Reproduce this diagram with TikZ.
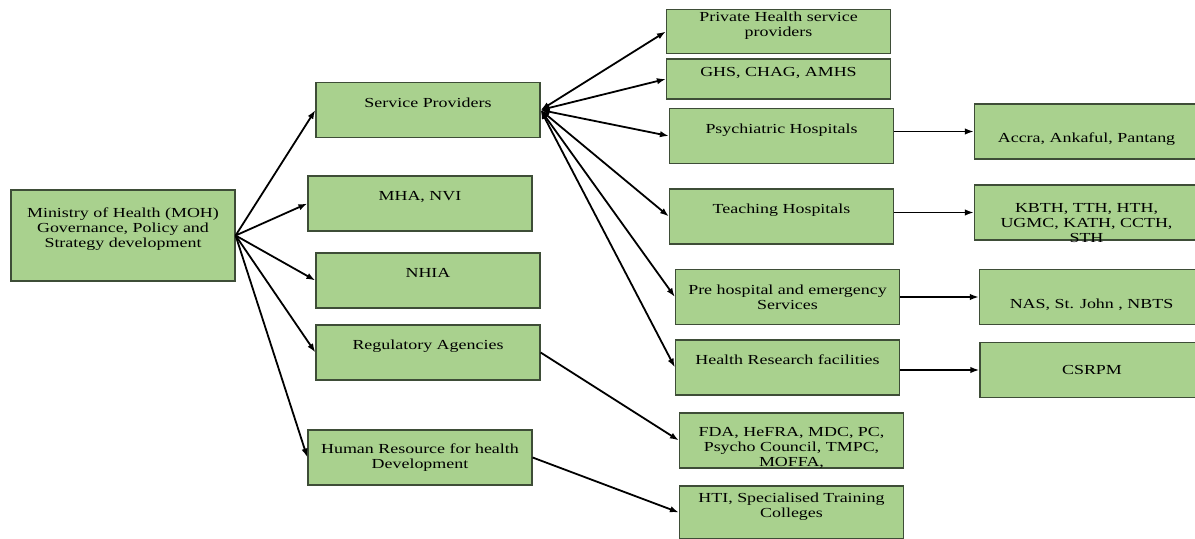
\documentclass[tikz,border=0pt]{standalone}
\usepackage{fontspec}
\setmainfont{Liberation Serif}[FakeStretch=1.3]
\usepackage{xcolor}
\usepackage{tikz}
\usetikzlibrary{arrows.meta,positioning,calc}
\definecolor{boxgreen}{HTML}{A9D18E}
\definecolor{boxline}{HTML}{3E4D37}

\begin{document}
\begin{tikzpicture}[
    x=0.5pt, y=-0.5pt,
    orgbox/.style={draw=boxline, line width=0.6pt, fill=boxgreen, minimum width=112pt, minimum height=27.5pt, inner sep=1pt, align=center, font=\fontsize{6.9}{7.5}\selectfont},
    flatbox/.style={orgbox, minimum height=20pt},
    arrow/.style={-{Latex[length=4.5pt,width=3.2pt]}, line width=0.9pt},
    twoway/.style={{Latex[length=4.5pt,width=3.2pt]}-{Latex[length=4.5pt,width=3.2pt]}, line width=0.9pt}
]
\useasboundingbox (0,0) rectangle (1195,539);
% ministry and its agencies
\node[orgbox, minimum height=45.5pt] (moh) at (123,235.5) {Ministry of Health (MOH)\\ Governance, Policy and\\ Strategy development\\ \mbox{}};
\node[orgbox] (sp) at (428,110) {Service Providers\\ \mbox{}};
\node[orgbox] (mha) at (420,203.5) {MHA, NVI\\ \mbox{}};
\node[orgbox] (nhia) at (428,280.5) {NHIA\\ \mbox{}};
\node[orgbox] (reg) at (428,352.5) {Regulatory Agencies\\ \mbox{}};
\node[orgbox] (hr) at (420,457.5) {Human Resource for health\\ Development};
% service providers
\node[flatbox] (private) at (778.5,31.5) {Private Health service\\ providers\\ \mbox{}};
\node[flatbox] (ghs) at (778.5,79) {GHS, CHAG, AMHS\\ \mbox{}};
\node[orgbox] (psych) at (781.5,136) {Psychiatric Hospitals\\ \mbox{}};
\node[orgbox] (teach) at (781.5,216.5) {Teaching Hospitals\\ \mbox{}};
\node[orgbox] (pre) at (787.5,297) {Pre hospital and emergency\\ Services};
\node[orgbox] (research) at (787.5,367.5) {Health Research facilities\\ \mbox{}};
\node[orgbox] (fda) at (791.5,440.5) {\mbox{}\\ FDA, HeFRA, MDC, PC,\\ Psycho Council, TMPC,\\ MOFFA,\\[-11pt] \mbox{}};
\node[orgbox, minimum height=26.5pt] (hti) at (791.5,512.5) {HTI, Specialised Training\\ Colleges\\ \mbox{}};
% facilities
\node[orgbox] (accra) at (1086.5,131.5) {\mbox{}\\[5pt] Accra, Ankaful, Pantang};
\node[orgbox] (kbth) at (1086.5,212.5) {\mbox{}\\ KBTH, TTH, HTH,\\ UGMC, KATH, CCTH,\\ STH\\[-15pt] \mbox{}};
\node[orgbox] (nas) at (1091.5,297) {\mbox{}\\[5pt] NAS, St. John , NBTS};
\node[orgbox] (csrpm) at (1092,370) {CSRPM};

\foreach \b in {sp,mha,nhia,reg,hr} {
    \draw[arrow] (moh.east) -- (\b.west);
}
\foreach \b in {private,ghs,psych,teach,pre,research} {
    \draw[twoway] (sp.east) -- (\b.west);
}
\draw[arrow] (psych.east |- accra) -- (accra.west);
\draw[arrow] (teach.east |- kbth) -- (kbth.west);
\draw[arrow] (pre.east) -- (nas.west);
\draw[arrow] (research.east |- csrpm) -- (csrpm.west);
\draw[arrow] (reg.east) -- (fda.west);
\draw[arrow] (hr.east) -- (hti.west);
\end{tikzpicture}
\end{document}
